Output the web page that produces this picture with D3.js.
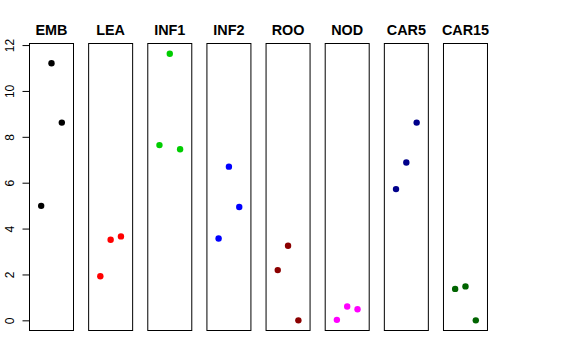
<!DOCTYPE html>
<html><head><meta charset="utf-8">
<script src="https://cdn.jsdelivr.net/npm/d3@7"></script>
<style>body{margin:0;background:#fff}svg{display:block}</style>
</head><body>
<svg id="c" width="576" height="360"></svg>
<script>
const categories = ["EMB","LEA","INF1","INF2","ROO","NOD","CAR5","CAR15"];
const colors = ["#000000","#FF0000","#00CD00","#0000FF","#8B0000","#FF00FF","#00008B","#006400"];
const rep1 = [4.99, 1.92, 7.64, 3.57, 2.19, 0.02, 5.72, 1.37];
const rep2 = [11.21, 3.51, 11.62, 6.70, 3.25, 0.60, 6.88, 1.48];
const rep3 = [8.62, 3.66, 7.46, 4.94, 0.00, 0.48, 8.62, 0.00];
const reps = [1, 2, 3];
const yTicks = [0, 2, 4, 6, 8, 10, 12];

(function () {
const svg = d3.select("#c");
const plotTop = 43, plotBottom = 331;
const y = d3.scaleLinear().domain([-0.465, 12.09]).range([plotBottom, plotTop]);
const panel = d3.scaleBand().domain(categories).range([29, 29 + 59.14 * 8]).paddingInner(0).paddingOuter(0);
const boxW = 45;
const x = d3.scaleLinear().domain([2 - 2.18, 2 + 2.18]).range([0, boxW]);

categories.forEach((cat, i) => {
  const g = svg.append("g").attr("transform", `translate(${panel(cat)},0)`);
  g.append("rect").attr("x", 0.5).attr("y", plotTop + 0.5).attr("width", boxW - 1).attr("height", plotBottom - plotTop - 1)
    .attr("fill", "none").attr("stroke", "#000").attr("stroke-width", 1);
  g.append("text").attr("x", boxW / 2).attr("y", 34.7).attr("text-anchor", "middle")
    .attr("font-family", "Liberation Sans, Arial, sans-serif").attr("font-weight", "bold")
    .attr("font-size", "14.4px").text(cat);
  const vals = [rep1[i], rep2[i], rep3[i]];
  g.selectAll("circle").data(reps).join("circle")
    .attr("cx", d => x(d)).attr("cy", (d, k) => y(vals[k])).attr("r", 3.2).attr("fill", colors[i]);
});

const axis = d3.axisLeft(y).tickValues(yTicks).tickSize(7).tickFormat(d3.format("d"));
const ag = svg.append("g").attr("transform", `translate(29.5,0)`).call(axis);
ag.select(".domain").attr("d", `M0,${y(0)}V${y(12)}`).attr("stroke", "#000");
ag.selectAll(".tick line").attr("stroke", "#000");
ag.selectAll(".tick text").attr("font-family", "Liberation Sans, Arial, sans-serif").attr("font-size", "12px")
  .attr("fill", "#000").attr("x", null).attr("dy", null)
  .attr("text-anchor", "middle")
  .attr("transform", "translate(-15.5,0) rotate(-90)");
})();
</script>
</body></html>
